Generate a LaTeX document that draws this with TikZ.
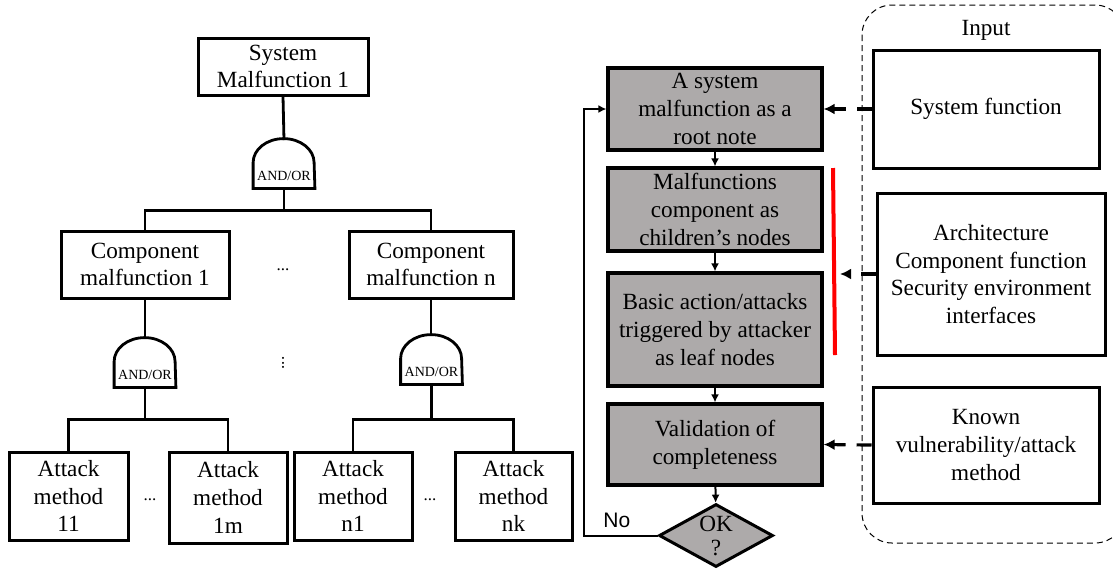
\documentclass[tikz,border=0pt]{standalone}
\usepackage{fontspec}
\setmainfont{Liberation Serif}
\newfontfamily\labelsans{Liberation Sans}
\usetikzlibrary{shapes.geometric,arrows.meta}
\definecolor{stepgray}{HTML}{ADAAAA}
\definecolor{markred}{HTML}{FF0000}

\begin{document}
\begin{tikzpicture}[x=0.5pt, y=-0.5pt, >={Latex[length=4pt,width=4pt]},
  every node/.style={font=\fontsize{11.6}{13.8}\selectfont, align=center},
  treebox/.style={draw, line width=1.5pt, inner sep=0pt},
  gate/.style={minimum width=30.5pt, minimum height=12.5pt, inner sep=0pt, font=\fontsize{7}{8}\selectfont},
  tree/.style={line width=1.4pt},
  dots/.style={font=\fontsize{8.5}{9}\selectfont, inner sep=0pt},
  flowbox/.style={draw, line width=1.6pt, fill=stepgray, minimum width=107pt, inner sep=0pt},
  flow/.style={line width=1pt, ->},
  inbox/.style={draw, line width=1.5pt, inner sep=0pt},
  inarrow/.style={line width=1.6pt, -{Latex[length=5.5pt,width=5.5pt]}, dash pattern=on 7.5pt off 5.5pt}]

  \useasboundingbox (0,0) rectangle (1113,569);

  % fault tree
  \node[treebox, minimum width=85pt, minimum height=28.5pt] (sys) at (283,66.5) {System\\Malfunction 1};
  \node[gate] (g1) at (284,175.5) {AND/OR};
  \node[treebox, minimum width=84pt, minimum height=33.5pt] (cm1) at (145,264.5) {Component\\malfunction 1};
  \node[treebox, minimum width=82pt, minimum height=33.5pt] (cmn) at (431,264.5) {Component\\malfunction n};
  \node[gate] (g2) at (145,374.5) {AND/OR};
  \node[gate] (g3) at (431.5,371.5) {AND/OR};
  \node[treebox, minimum width=59.5pt, minimum height=44pt] (a11) at (68.5,496) {Attack\\method\\11};
  \node[treebox, minimum width=59pt, minimum height=45.5pt] (a1m) at (228,497.5) {Attack\\method\\1m};
  \node[treebox, minimum width=59pt, minimum height=44pt] (an1) at (353,496) {Attack\\method\\n1};
  \node[treebox, minimum width=58.5pt, minimum height=44pt] (ank) at (513.5,496) {Attack\\method\\nk};
  \node[dots] (dm) at (283,270) {...};
  \node[dots] (dv) at (283,363) {\rotatebox{90}{...}};
  \node[dots] (d1) at (150,500) {...};
  \node[dots] (dn) at (430,500) {...};

  \foreach \g in {g1,g2,g3}
    \draw[tree] (\g.north west) arc[start angle=180, end angle=0, x radius=15.25pt, y radius=12pt]
      -- (\g.south east) -- (\g.south west) -- cycle;
  \draw[tree] (sys.south) -- (284,140) coordinate (g1-top);
  \draw[tree] (cm1.south) -- (145,338) coordinate (g2-top);
  \draw[tree] (cmn.south) -- (431,335) coordinate (g3-top);
  \draw[tree] (g1.south) -- ++(0,22) -| (cm1.north);
  \draw[tree] (g1.south) -- ++(0,22) -| (cmn.north);
  \draw[tree] (g2.south) -- ++(0,32) -| (a11.north);
  \draw[tree] (g2.south) -- ++(0,32) -| (a1m.north);
  \draw[tree] (g3.south) -- ++(0,35) -| (an1.north);
  \draw[tree] (g3.south) -- ++(0,35) -| (ank.north);

  % flow chart
  \node[flowbox, minimum height=41pt] (fa) at (715,109) {A system\\malfunction as a\\root note};
  \node[flowbox, minimum height=41.5pt] (fb) at (715,209.5) {Malfunctions\\component as\\children’s nodes};
  \node[flowbox, minimum height=56.5pt] (fc) at (715,329.5) {Basic action/attacks\\triggered by attacker\\as leaf nodes};
  \node[flowbox, minimum height=40.5pt] (fd) at (715,444.5) {Validation of\\completeness};
  \node[diamond, draw, fill=stepgray, line width=1.5pt, aspect=1.8, inner sep=0pt,
        minimum width=57pt, minimum height=31.5pt, font=\fontsize{11.6}{12}\selectfont] (ok) at (716,535.5) {OK\\?};
  \draw[flow] (fa) -- (fb);
  \draw[flow] (fb) -- (fc);
  \draw[flow] (fc) -- (fd);
  \draw[flow] (fd) -- (ok);
  \draw[flow] (ok.west) -- node[above, pos=0.55, font=\labelsans\fontsize{10.5}{12}\selectfont] (no) {No} ++(-74,0) |- (fa.west);

  % inputs
  \draw[line width=0.5pt, dash pattern=on 3pt off 2pt, rounded corners=15pt] (862,5) rectangle (1125,543);
  \node (inlabel) at (986,30) {Input};
  \node[inbox, minimum width=113pt, minimum height=59pt] (sf) at (986,109) {System function};
  \node[inbox, minimum width=114pt, minimum height=81pt] (arch) at (991,274) {Architecture\\Component function\\Security environment\\interfaces};
  \node[inbox, minimum width=113pt, minimum height=58pt] (kv) at (986,445) {Known\\vulnerability/attack\\method};
  \coordinate (rtop) at (833,168);
  \coordinate (rbot) at (835,355);
  \draw[markred, line width=2pt] (rtop) -- (rbot);
  \draw[inarrow] (sf.west) -- (fa.east);
  \draw[inarrow, shorten >=2.5pt] (arch.west) -- (arch.west -| rbot);
  \draw[inarrow] (kv.west) -- (fd.east);
\end{tikzpicture}
\end{document}
